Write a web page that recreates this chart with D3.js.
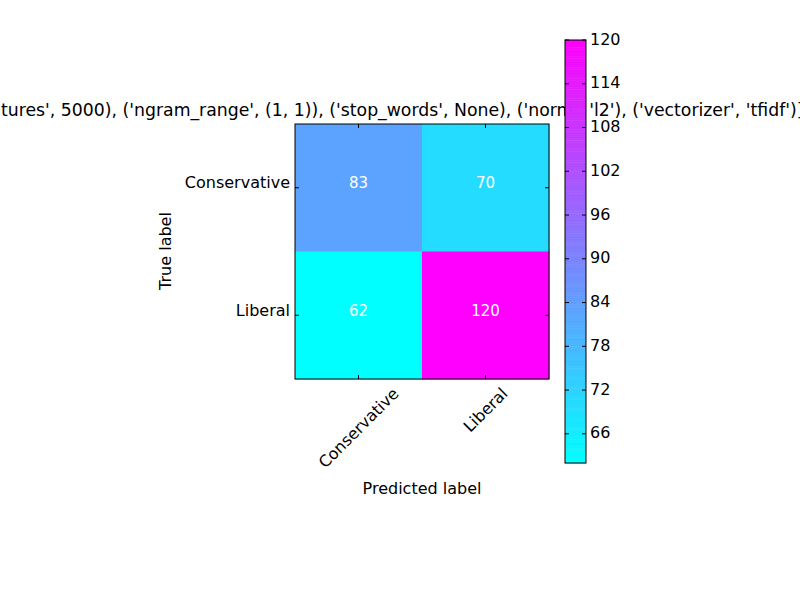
<!DOCTYPE html><html><head><script src="https://cdn.jsdelivr.net/npm/d3@7"></script>
<style>body{margin:0;background:#fff}text{font-family:"DejaVu Sans",sans-serif}</style></head><body>
<svg id="c" width="800" height="600"></svg>
<script>
const categories=["Conservative","Liberal"];
const matrix=[[83,70],[62,120]];
const cbTicks=[66,72,78,84,90,96,102,108,114,120];
const title="[('max_features', 5000), ('ngram_range', (1, 1)), ('stop_words', None), ('norm', 'l2'), ('vectorizer', 'tfidf')]";
const vmin=62,vmax=120;
const svg=d3.select("#c");
const cool=t=>d3.rgb(255*t,255*(1-t),255);
const color=v=>cool((v-vmin)/(vmax-vmin));
const x=d3.scaleBand().domain(categories).range([295,549]);
const y=d3.scaleBand().domain(categories).range([124,379]);
const tt=svg.append("text").attr("y",116).attr("font-size",17.3).text(title);
// position so that "tures'" starts at left edge like reference
const full=tt.node().getComputedTextLength();
tt.attr("x",0);
const pre="[('max_fea";
const tmp=svg.append("text").attr("font-size",17.3).text(pre);
const preW=tmp.node().getComputedTextLength();tmp.remove();
tt.attr("x",-preW+1);
const cells=[];matrix.forEach((r,i)=>r.forEach((v,j)=>cells.push({i,j,v})));
svg.selectAll("rect.cell").data(cells).join("rect").attr("x",d=>x(categories[d.j])).attr("y",d=>y(categories[d.i]))
 .attr("width",x.bandwidth()+0.5).attr("height",y.bandwidth()+0.5).attr("fill",d=>color(d.v));
svg.selectAll("text.v").data(cells).join("text").attr("x",d=>x(categories[d.j])+x.bandwidth()/2).attr("y",d=>y(categories[d.i])+y.bandwidth()/2-5)
 .attr("dy","0.35em").attr("text-anchor","middle").attr("fill","#fff").attr("font-size",15).text(d=>d.v);
svg.append("rect").attr("x",295).attr("y",124).attr("width",254).attr("height",255).attr("fill","none").attr("stroke","#000");
categories.forEach(c=>{
 const cx=x(c)+x.bandwidth()/2, cyy=y(c)+y.bandwidth()/2;
 svg.append("line").attr("x1",cx).attr("x2",cx).attr("y1",379).attr("y2",375).attr("stroke","#000");
 svg.append("line").attr("x1",cx).attr("x2",cx).attr("y1",124).attr("y2",128).attr("stroke","#000");
 svg.append("line").attr("x1",295).attr("x2",299).attr("y1",cyy).attr("y2",cyy).attr("stroke","#000");
 svg.append("line").attr("x1",549).attr("x2",545).attr("y1",cyy).attr("y2",cyy).attr("stroke","#000");
 svg.append("text").attr("x",290).attr("y",cyy-5).attr("dy","0.35em").attr("text-anchor","end").attr("font-size",16).text(c);
 const t=svg.append("text").attr("text-anchor","middle").attr("dy","0.35em").attr("font-size",16).text(c);
 const L=t.node().getComputedTextLength();
 const mid=384+(L+19)*0.707/2;
 t.attr("transform",`translate(${cx},${mid}) rotate(-45)`);
});
svg.append("text").attr("x",422).attr("y",494).attr("text-anchor","middle").attr("font-size",16).text("Predicted label");
svg.append("text").attr("transform","translate(171,251) rotate(-90)").attr("text-anchor","middle").attr("font-size",16).text("True label");
const cy=d3.scaleLinear().domain([vmin,vmax]).range([463,40]);
const steps=d3.range(vmin,vmax,0.25);
svg.selectAll("rect.cb").data(steps).join("rect").attr("x",565).attr("width",21).attr("y",d=>cy(d+0.25)).attr("height",d=>cy(d)-cy(d+0.25)+0.5).attr("fill",d=>color(d+0.125));
svg.append("rect").attr("x",565).attr("y",40).attr("width",21).attr("height",423).attr("fill","none").attr("stroke","#000");
cbTicks.forEach(t=>{
 svg.append("line").attr("x1",586).attr("x2",582).attr("y1",cy(t)).attr("y2",cy(t)).attr("stroke","#000");
 svg.append("line").attr("x1",565).attr("x2",569).attr("y1",cy(t)).attr("y2",cy(t)).attr("stroke","#000");
 svg.append("text").attr("x",590).attr("y",cy(t)-1).attr("dy","0.35em").attr("font-size",16).text(t);
});
</script></body></html>
